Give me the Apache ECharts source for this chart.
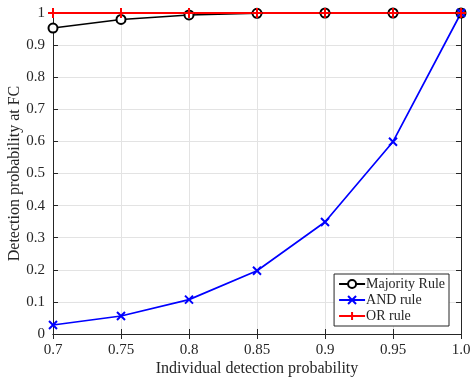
<!DOCTYPE html>
<html>
<head>
<meta charset="utf-8">
<script src="https://cdn.jsdelivr.net/npm/echarts@6/dist/echarts.min.js"></script>
<style>
  html, body { margin: 0; padding: 0; background: #fff; }
  #chart { width: 470px; height: 380px; }
</style>
</head>
<body>
<div id="chart"></div>
<script>
var chart = echarts.init(document.getElementById('chart'));

const probs = [0.7, 0.75, 0.8, 0.85, 0.9, 0.95, 1.0];
const majority = [0.953, 0.980, 0.994, 0.999, 1.0, 1.0, 1.0];
const andRule = [0.028, 0.056, 0.107, 0.197, 0.349, 0.599, 1.0];
const orRule = [1.0, 1.0, 1.0, 1.0, 1.0, 1.0, 1.0];

const serif = 'Liberation Serif';
const crossX = 'path://M0,0L10,10M10,0L0,10';
const plus = 'path://M5,0L5,10M0,5L10,5';

function pairs(ys) {
  return probs.map(function (x, i) { return [x, ys[i]]; });
}

function xFmt(v) {
  if (Math.abs(v - 1) < 1e-9) return '1.0';
  return String(+v.toFixed(2));
}
function yFmt(v) {
  return String(+v.toFixed(1));
}

var axisLine = { show: true, lineStyle: { color: '#262626', width: 1 } };
var tick = { show: true, inside: true, length: 5, lineStyle: { color: '#262626' } };

var option = {
  animation: false,
  backgroundColor: '#fff',
  grid: { left: 53, right: 9, top: 13, bottom: 46, outerBoundsMode: 'none', containLabel: false },
  xAxis: [{
    type: 'value', min: 0.7, max: 1.0, interval: 0.05,
    name: 'Individual detection probability',
    nameLocation: 'middle', nameGap: 27, nameMoveOverlap: false,
    nameTextStyle: { fontFamily: serif, fontSize: 16, color: '#262626' },
    axisLine: axisLine, axisTick: tick,
    axisLabel: { formatter: xFmt, fontFamily: serif, fontSize: 15, color: '#262626', margin: 9 },
    splitLine: { show: true, lineStyle: { color: '#e3e3e3' } }
  }, {
    type: 'value', min: 0.7, max: 1.0, interval: 0.05, position: 'top',
    axisLine: axisLine, axisTick: tick, axisLabel: { show: false }, splitLine: { show: false }
  }],
  yAxis: [{
    type: 'value', min: 0, max: 1, interval: 0.1,
    name: 'Detection probability at FC',
    nameLocation: 'middle', nameGap: 30, nameMoveOverlap: false,
    nameTextStyle: { fontFamily: serif, fontSize: 16, color: '#262626' },
    axisLine: axisLine, axisTick: tick,
    axisLabel: { formatter: yFmt, fontFamily: serif, fontSize: 15, color: '#262626', margin: 8 },
    splitLine: { show: true, lineStyle: { color: '#e3e3e3' } }
  }, {
    type: 'value', min: 0, max: 1, interval: 0.1, position: 'right',
    axisLine: axisLine, axisTick: tick, axisLabel: { show: false }, splitLine: { show: false }
  }],
  legend: {
    orient: 'vertical',
    right: 21, top: 274,
    backgroundColor: '#fff',
    borderColor: '#262626', borderWidth: 1, borderRadius: 0,
    padding: [3, 4, 3, 4],
    itemGap: 2,
    itemWidth: 26, itemHeight: 10,
    textStyle: { fontFamily: serif, fontSize: 14, color: '#262626', padding: [0, 0, 0, -4] },
    data: ['Majority Rule', 'AND rule', 'OR rule']
  },
  series: [{
    name: 'Majority Rule', type: 'line', data: pairs(majority),
    symbol: 'circle', symbolSize: 9, showSymbol: true,
    lineStyle: { color: '#000', width: 1.5 },
    itemStyle: { color: '#fff', borderColor: '#000', borderWidth: 2 }
  }, {
    name: 'AND rule', type: 'line', data: pairs(andRule),
    symbol: crossX, symbolSize: 8,
    lineStyle: { color: '#0000ff', width: 1.7 },
    itemStyle: { color: '#0000ff', borderColor: '#0000ff', borderWidth: 2 }
  }, {
    name: 'OR rule', type: 'line', data: pairs(orRule),
    symbol: plus, symbolSize: 10,
    lineStyle: { color: '#ff0000', width: 2 },
    itemStyle: { color: '#ff0000', borderColor: '#ff0000', borderWidth: 2 }
  }]
};

chart.setOption(option);
</script>
</body>
</html>
